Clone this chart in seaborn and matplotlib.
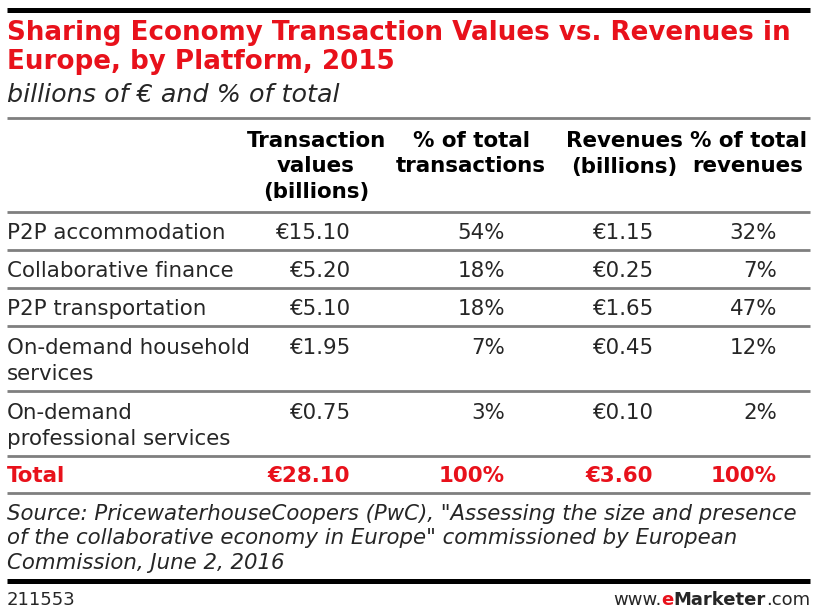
import matplotlib
matplotlib.use("Agg")
import matplotlib.pyplot as plt
import seaborn as sns

# ---- data ----
title_lines = ["Sharing Economy Transaction Values vs. Revenues in",
               "Europe, by Platform, 2015"]
subtitle = "billions of € and % of total"
col_headers = ["Transaction\nvalues\n(billions)", "% of total\ntransactions",
               "Revenues\n(billions)", "% of total\nrevenues"]
platforms = ["P2P accommodation", "Collaborative finance", "P2P transportation",
             "On-demand household\nservices", "On-demand\nprofessional services"]
transaction_values = [15.10, 5.20, 5.10, 1.95, 0.75]
pct_transactions = [54, 18, 18, 7, 3]
revenues = [1.15, 0.25, 1.65, 0.45, 0.10]
pct_revenues = [32, 7, 47, 12, 2]
total_label = "Total"
total_transactions = 28.10
total_pct_transactions = 100
total_revenues = 3.60
total_pct_revenues = 100
source_lines = ["Source: PricewaterhouseCoopers (PwC), \"Assessing the size and presence",
                "of the collaborative economy in Europe\" commissioned by European",
                "Commission, June 2, 2016"]
chart_id = "211553"

# ---- style ----
sns.set_theme(style="white")
plt.rcParams["font.family"] = ["DejaVu Sans"]
RED = "#E8111B"
GRAY = "#7f7f7f"
TXT = "#262626"
BODY = 15.4

fig = plt.figure(figsize=(8.3, 6.13), dpi=100)
ax = fig.add_axes([0, 0, 1, 1])
ax.set_xlim(0, 830)
ax.set_ylim(613, 0)
ax.axis("off")

L, R = 7, 810
# rules
ax.plot([L, R], [9.5, 9.5], color="black", lw=3.6, solid_capstyle="butt")
for y in [118, 212, 250, 288, 326, 391, 456, 493]:
    ax.plot([L, R], [y, y], color=GRAY, lw=2.0, solid_capstyle="butt")
ax.plot([L, R], [580.5, 580.5], color="black", lw=3.6, solid_capstyle="butt")

def lines(x, y0, text, step, **kw):
    for i, s in enumerate(text.split("\n")):
        ax.text(x, y0 + i * step, s, va="baseline", **kw)

# title
for i, s in enumerate(title_lines):
    ax.text(L, 40 + i * 29, s, color=RED, fontsize=18.8, fontweight="bold",
            va="baseline", ha="left")
ax.text(L, 102, subtitle, color=TXT, fontsize=18.3, style="italic",
        va="baseline", ha="left")

# headers
hdr_x = [316, 471, 624, 748]
for x, h in zip(hdr_x, col_headers):
    lines(x, 147, h, 25.5, ha="center", fontsize=15.4, fontweight="bold", color="black")

# body
row_base = [239, 277, 315, 354, 419]
val_x = [350, 505, 653, 777]
for y, name, tv, pt, rv, pr in zip(row_base, platforms, transaction_values,
                                   pct_transactions, revenues, pct_revenues):
    lines(L, y, name, 26, ha="left", fontsize=BODY, color=TXT)
    vals = [f"€{tv:.2f}", f"{pt}%", f"€{rv:.2f}", f"{pr}%"]
    for x, v in zip(val_x, vals):
        ax.text(x, y, v, ha="right", va="baseline", fontsize=BODY, color=TXT)

# total
ty = 482
ax.text(L, ty, total_label, ha="left", va="baseline", fontsize=BODY,
        fontweight="bold", color=RED)
tvals = [f"€{total_transactions:.2f}", f"{total_pct_transactions}%",
         f"€{total_revenues:.2f}", f"{total_pct_revenues}%"]
for x, v in zip(val_x, tvals):
    ax.text(x, ty, v, ha="right", va="baseline", fontsize=BODY,
            fontweight="bold", color=RED)

# source
for i, s in enumerate(source_lines):
    ax.text(L, 520 + i * 24.5, s, ha="left", va="baseline", fontsize=15.3,
            style="italic", color=TXT)

# footer
FY = 605
ax.text(L, FY, chart_id, ha="left", va="baseline", fontsize=13, color=TXT)
fig.canvas.draw()
r = fig.canvas.get_renderer()
pieces = [(".com", "normal", TXT), ("Marketer", "bold", TXT),
          ("e", "bold", RED), ("www.", "normal", TXT)]
xr = R
inv = ax.transData.inverted()
for s, w, c in pieces:
    t = ax.text(xr, FY, s, ha="right", va="baseline", fontsize=13,
                fontweight=w, color=c)
    bb = t.get_window_extent(renderer=r)
    xr = inv.transform((bb.x0, bb.y0))[0]

fig.savefig("out.png", dpi=100)
